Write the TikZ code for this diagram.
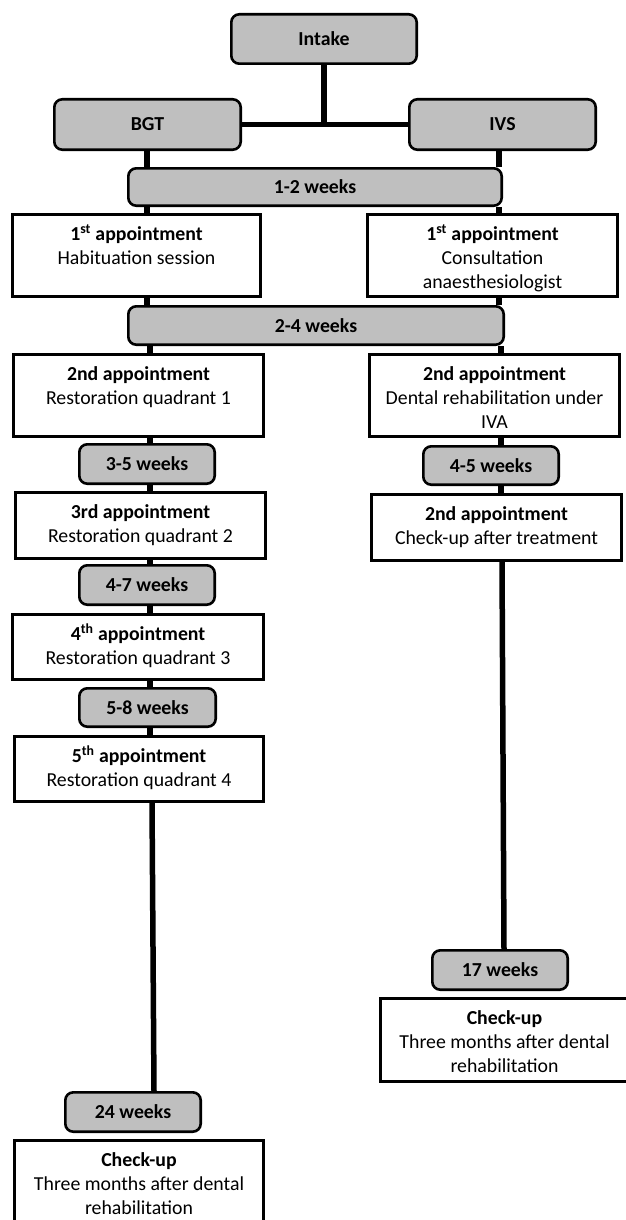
\documentclass[tikz,border=0pt]{standalone}
\usepackage{fontspec}
\setmainfont{Carlito}
\definecolor{boxgray}{RGB}{191,191,191}
\newcommand{\mkg}[6]{%
  \pgfmathsetmacro{\ww}{#4-#2-2.6}\pgfmathsetmacro{\hh}{#5-#3-2.6}%
  \node[graybox, minimum width=\ww pt, minimum height=\hh pt] (#1) at ({(#2+#4)/2},{(#3+#5)/2}) {#6};}
\newcommand{\mkw}[6]{%
  \pgfmathsetmacro{\ww}{#4-#2-2.6}\pgfmathsetmacro{\hh}{#5-#3-2.6}%
  \node[whitebox, minimum width=\ww pt, minimum height=\hh pt] (#1) at ({(#2+#4)/2},{(#3+#5)/2})
   {\begin{minipage}[c][\hh pt][t]{\ww pt}\centering\rule{0pt}{26.5pt}#6\end{minipage}};}
\begin{document}
\begin{tikzpicture}[x=1pt,y=-1pt,
  every node/.style={font=\fontsize{19.8pt}{24pt}\selectfont},
  graybox/.style={draw=black, line width=2.6pt, fill=boxgray, rounded corners=8pt,
    inner sep=0pt, font=\fontsize{19.8pt}{24pt}\selectfont\bfseries, align=center},
  whitebox/.style={draw=black, line width=2.6pt, fill=white, inner sep=0pt},
  conn/.style={line width=5.5pt}]
\useasboundingbox (0,0) rectangle (626,1220);
\clip (0,0) rectangle (626,1220);
\fill[white] (0,0) rectangle (626,1220);

\mkg{intake}{230}{13}{418}{65}{Intake}
\mkg{bgt}{53}{98}{242}{151}{BGT}
\mkg{ivs}{408}{98}{597}{151}{IVS}
\mkg{w12}{127}{167}{503}{207}{1-2 weeks}
\mkw{a1l}{11}{213}{262}{298}{\textbf{1\textsuperscript{st} appointment}\\Habituation session}
\mkw{a1r}{366}{213}{619}{298}{\textbf{1\textsuperscript{st} appointment}\\Consultation\\anaesthesiologist}
\mkg{w24}{127}{305}{505}{346}{2-4 weeks}
\mkw{a2l}{12}{353}{265}{438}{\textbf{2nd appointment}\\Restoration quadrant 1}
\mkw{a2r}{368}{353}{621}{438}{\textbf{2nd appointment}\\Dental rehabilitation under\\IVA}
\mkg{w35}{78}{443}{216}{485}{3-5 weeks}
\mkg{w45}{422}{445}{560}{486}{4-5 weeks}
\mkw{a3l}{14}{491}{267}{560}{\textbf{3rd appointment}\\Restoration quadrant 2}
\mkw{a2rb}{370}{493}{623}{562}{\textbf{2nd appointment}\\Check-up after treatment}
\mkg{w47}{78}{564}{216}{606}{4-7 weeks}
\mkw{a4l}{11}{613}{265}{681}{\textbf{4\textsuperscript{th} appointment}\\Restoration quadrant 3}
\mkg{w58}{78}{687}{217}{728}{5-8 weeks}
\mkw{a5l}{13}{735}{265}{803}{\textbf{5\textsuperscript{th} appointment}\\Restoration quadrant 4}
\mkg{w17}{431}{949}{569}{991}{17 weeks}
\mkw{cur}{379}{997}{630}{1083}{\textbf{Check-up}\\Three months after dental\\rehabilitation}
\mkg{w24wk}{64}{1091}{202}{1133}{24 weeks}
\mkw{cul}{13}{1139}{265}{1230}{\textbf{Check-up}\\Three months after dental\\rehabilitation}

\coordinate (j) at (324,124.5);
\coordinate (L1) at (147,0);
\coordinate (L2) at (150,0);
\coordinate (L3a) at (152,0);
\coordinate (L3b) at (154,0);
\coordinate (R1) at (499,0);
\coordinate (R2) at (501,0);
\coordinate (R3a) at (502,0);
\coordinate (R3b) at (504,0);

\draw[conn] (intake.south) -- (j);
\draw[conn] (bgt.east) -- (ivs.west);

\draw[conn] (L1 |- bgt.south) -- (L1 |- w12.north);
\draw[conn] (L1 |- w12.south) -- (L1 |- a1l.north);
\draw[conn] (L1 |- a1l.south) -- (L1 |- w24.north);
\draw[conn] (L2 |- w24.south) -- (L2 |- a2l.north);
\draw[conn] (L2 |- a2l.south) -- (L2 |- w35.north);
\draw[conn] (L2 |- w35.south) -- (L2 |- a3l.north);
\draw[conn] (L2 |- a3l.south) -- (L2 |- w47.north);
\draw[conn] (L2 |- w47.south) -- (L2 |- a4l.north);
\draw[conn] (L2 |- a4l.south) -- (L2 |- w58.north);
\draw[conn] (L2 |- w58.south) -- (L2 |- a5l.north);
\draw[conn] (L3a |- a5l.south) -- (L3b |- w24wk.north);

\draw[conn] (R1 |- ivs.south) -- (R1 |- w12.north);
\draw[conn] (R1 |- w12.south) -- (R1 |- a1r.north);
\draw[conn] (R1 |- a1r.south) -- (R1 |- w24.north);
\draw[conn] (R2 |- w24.south) -- (R2 |- a2r.north);
\draw[conn] (R2 |- a2r.south) -- (R2 |- w45.north);
\draw[conn] (R2 |- w45.south) -- (R2 |- a2rb.north);
\draw[conn] (R3a |- a2rb.south) -- (R3b |- w17.north);
\end{tikzpicture}
\end{document}
